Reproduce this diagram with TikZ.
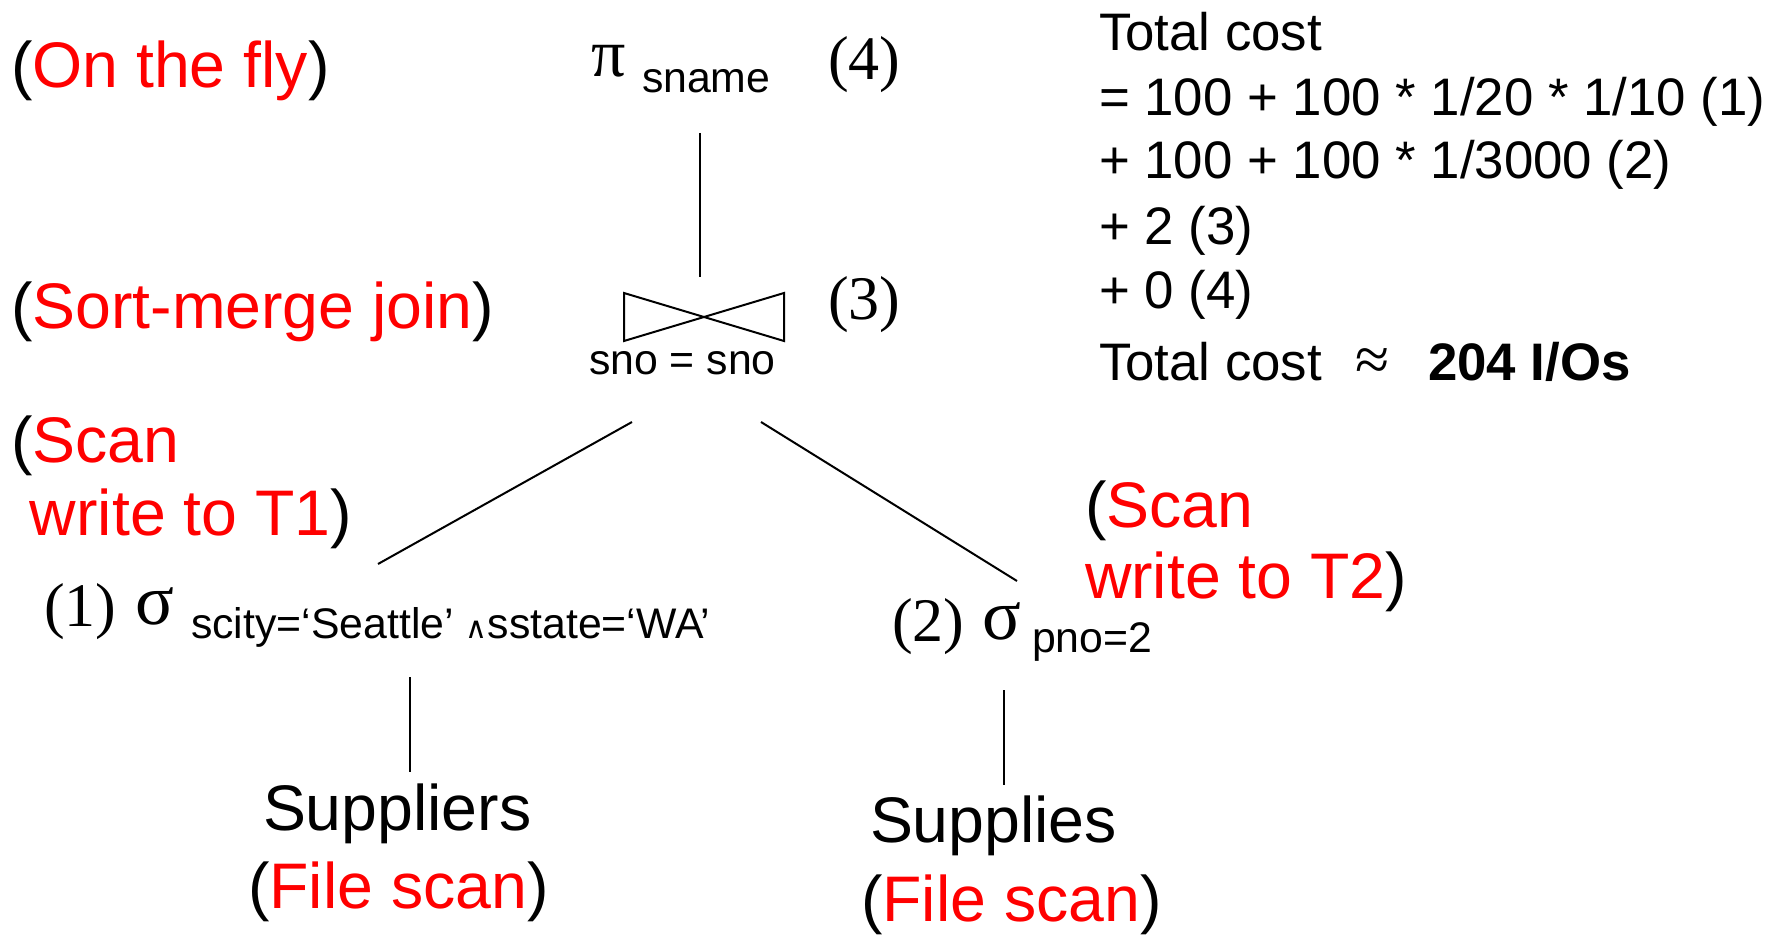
\documentclass[tikz,border=0pt]{standalone}
\usepackage{fontspec}
\setmainfont{Liberation Sans}
\newfontfamily\tms{Liberation Serif}
\newfontfamily\djv{DejaVu Sans}
\begin{document}
\begin{tikzpicture}[x=0.5pt,y=-0.5pt,
  txt/.style={anchor=base west,inner sep=0pt,outer sep=0pt},
  lbl/.style={txt,font=\fontsize{32.2}{36}\selectfont},
  cost/.style={txt,font=\fontsize{26.4}{30}\selectfont},
  sub/.style={txt,font=\fontsize{21.4}{24}\selectfont},
  num/.style={txt,font=\tms\fontsize{31}{34}\selectfont},
  edge/.style={line width=1pt}]
\useasboundingbox (0,0) rectangle (1779,936);
% red annotations
\node[lbl] (fly) at (11,88) {(\textcolor{red}{On the fly})};
\node[lbl] (smj) at (11,329) {(\textcolor{red}{Sort-merge join})};
\node[lbl] (sc1a) at (11,462) {(\textcolor{red}{Scan}};
\node[lbl] (sc1b) at (30,535) {\textcolor{red}{write to T1})};
\node[lbl] (sc2a) at (1085,527) {(\textcolor{red}{Scan}};
\node[lbl] (sc2b) at (1085,598) {\textcolor{red}{write to T2})};
% projection
\node[txt,font=\tms\fontsize{34}{38}\selectfont] (pi) at (591,77) {π};
\node[sub] (sname) at (642,93) {sname};
\node[num] (n4) at (828,80) {(4)};
% join
\coordinate (jl) at (624,293);
\coordinate (jr) at (784,341);
\draw[edge] (jl) -- (jr) -- (jr|-jl) -- (jl|-jr) -- cycle;
\node[num] (n3) at (828,320) {(3)};
\node[sub] (sno) at (589,375) {sno = sno};
% selections
\node[num] (n1) at (44,626) {(1)};
\node[txt,font=\tms\fontsize{36}{40}\selectfont] (sig1) at (135,624) {σ};
\node[sub] (cond1) at (191,638) {scity=‘Seattle’ {\djv\fontsize{15}{18}\selectfont ∧}sstate=‘WA’};
\node[num] (n2) at (892,641) {(2)};
\node[txt,font=\tms\fontsize{36}{40}\selectfont] (sig2) at (982,639) {σ};
\node[sub] (cond2) at (1032,652) {pno=2};
% relations
\node[lbl] (supp) at (263,830) {Suppliers};
\node[lbl] (fs1) at (248,908) {(\textcolor{red}{File scan})};
\node[lbl] (sups) at (870,842) {Supplies};
\node[lbl] (fs2) at (861,921) {(\textcolor{red}{File scan})};
% edges
\coordinate (pib) at (700,133);
\coordinate (jt) at (700,277);
\draw[edge] (pib) -- (jt);
\coordinate (jbl) at (632,422);
\coordinate (s1t) at (378,564);
\draw[edge] (jbl) -- (s1t);
\coordinate (jbr) at (761,422);
\coordinate (s2t) at (1017,581);
\draw[edge] (jbr) -- (s2t);
\coordinate (s1b) at (410,677);
\coordinate (r1t) at (410,772);
\draw[edge] (s1b) -- (r1t);
\coordinate (s2b) at (1004,690);
\coordinate (r2t) at (1004,785);
\draw[edge] (s2b) -- (r2t);
% cost text
\node[cost] (c1) at (1099,51) {Total cost};
\node[cost] (c2) at (1099,116) {= 100 + 100 * 1/20 * 1/10 (1)};
\node[cost] (c3) at (1099,179) {+ 100 + 100 * 1/3000 (2)};
\node[cost] (c4) at (1099,245) {+ 2 (3)};
\node[cost] (c5) at (1099,309) {+ 0 (4)};
\node[cost] (c6) at (1099,380) {Total cost\hspace{16pt}\makebox[18pt]{\tms\fontsize{31}{31}\selectfont ≈}\hspace{19pt}\textbf{204 I/Os}};
\end{tikzpicture}
\end{document}
